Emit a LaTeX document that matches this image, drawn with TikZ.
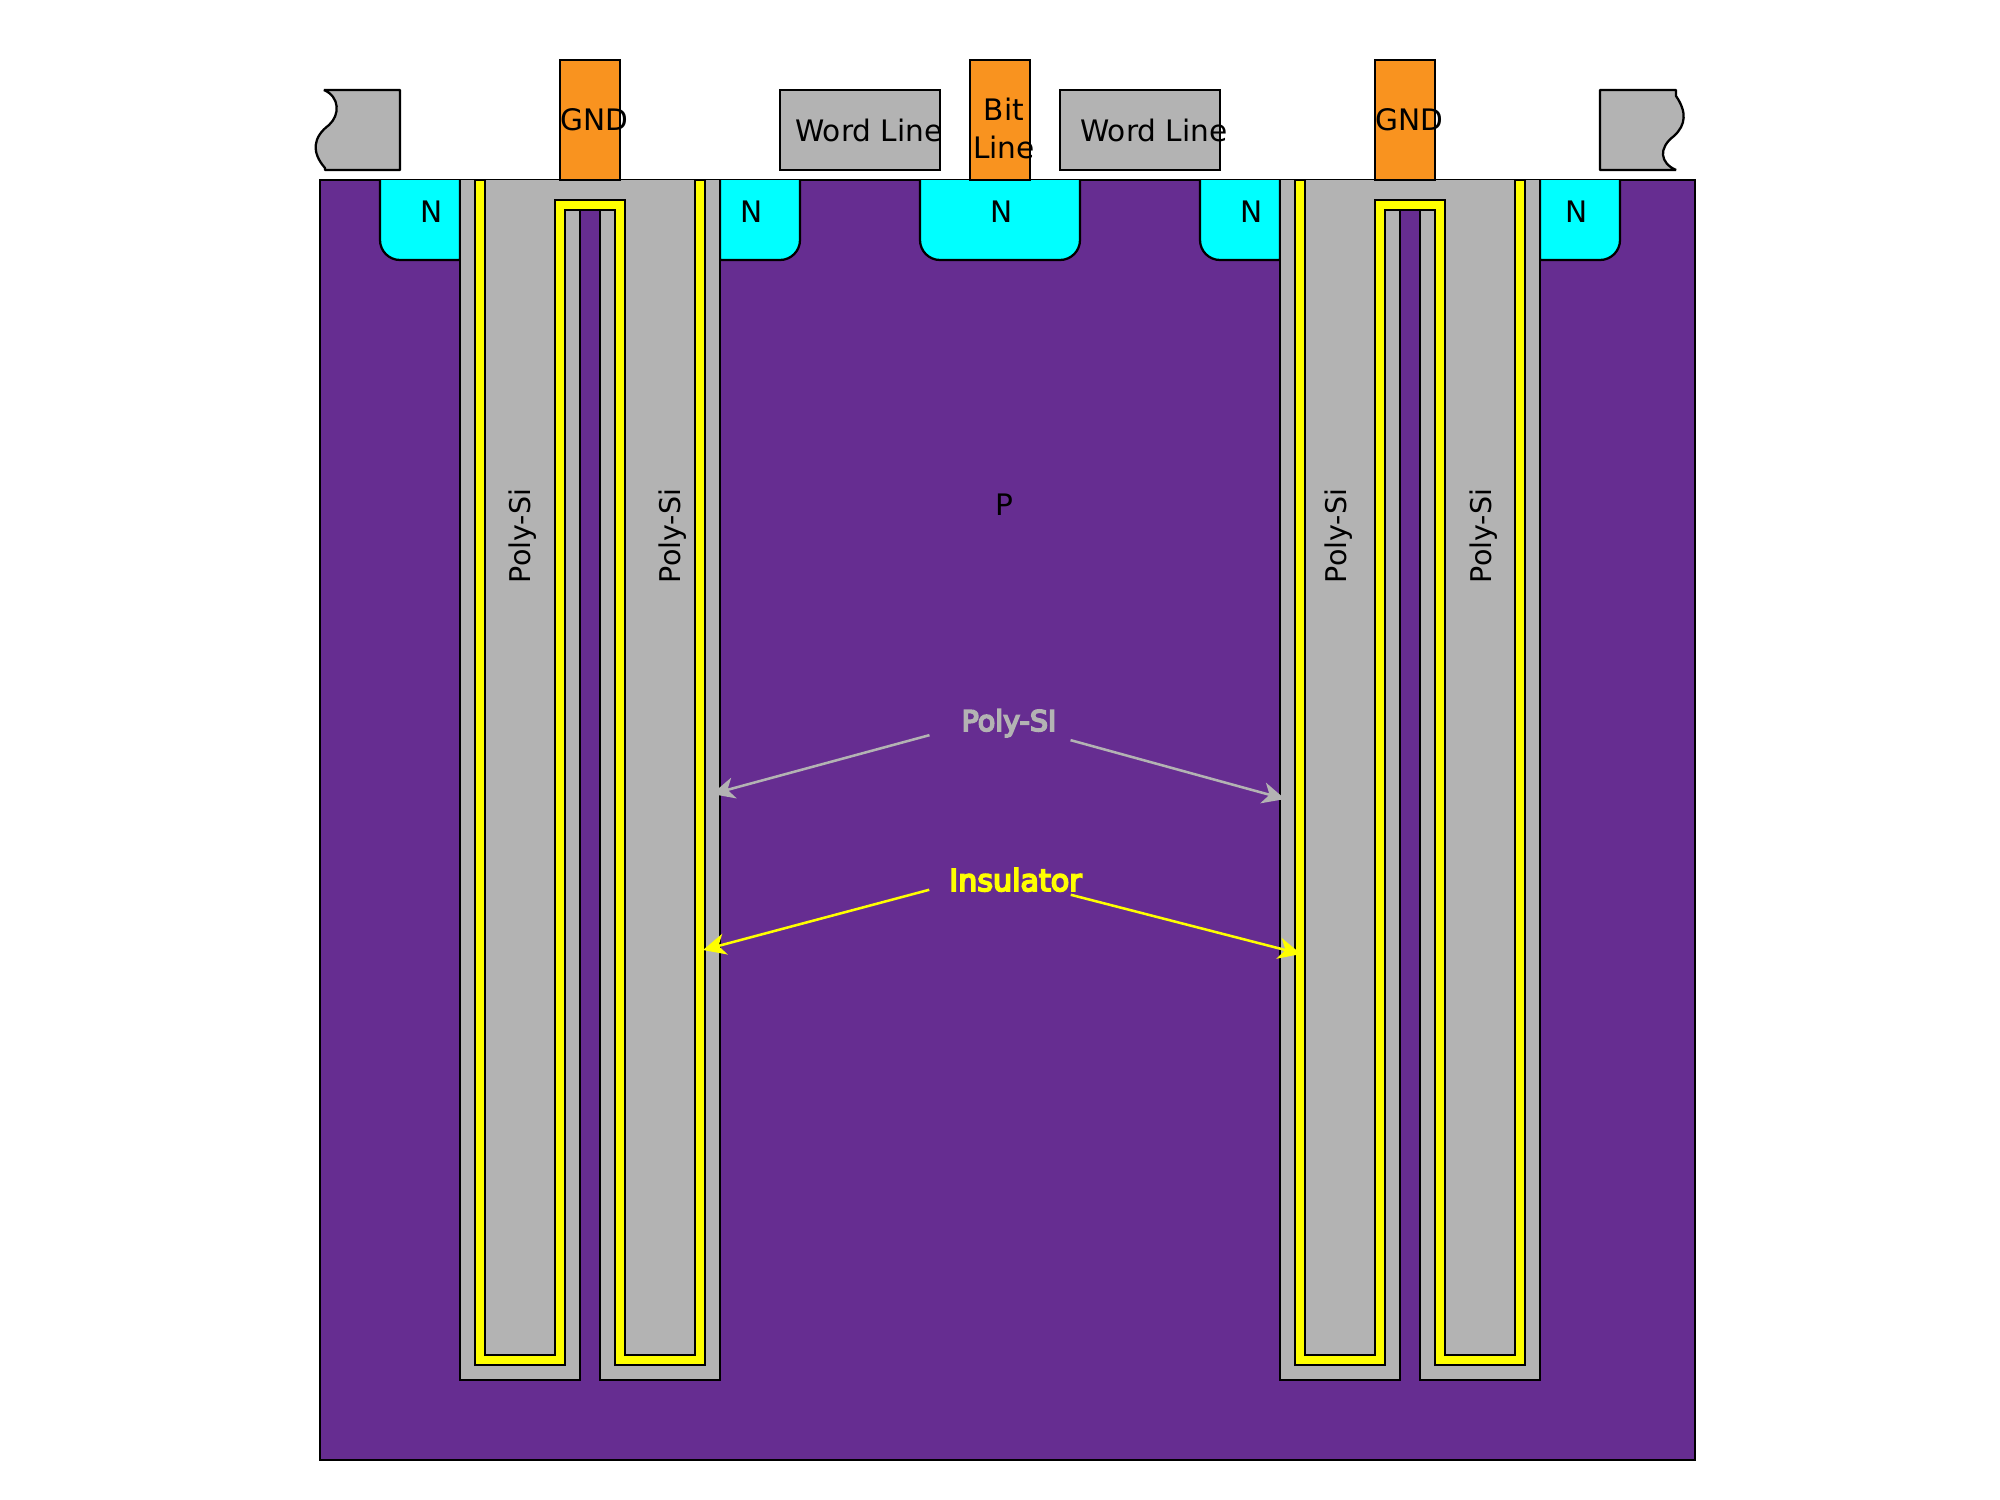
\documentclass[tikz,border=0pt]{standalone}
\usepackage{fontspec}
\setmainfont{DejaVu Sans}
\newfontfamily\calloutfont[FakeBold=6]{DejaVu Sans}
\usetikzlibrary{arrows.meta}

\definecolor{substrate}{HTML}{662D91}
\definecolor{polysi}{HTML}{B3B3B3}
\definecolor{metal}{HTML}{F9931F}
\definecolor{welln}{HTML}{00FFFF}
\definecolor{oxideyellow}{HTML}{FFFF00}

\begin{document}
\begin{tikzpicture}[
x=0.75pt,y=-0.75pt,
line width=1.7pt,
wirebox/.style={draw=black,fill=polysi},
contactbox/.style={draw=black,fill=metal},
wellbox/.style={draw=black,fill=welln},
oxide/.style={draw=black,fill=oxideyellow},
txt/.style={font=\fontsize{22.2pt}{27pt}\selectfont,text=black,inner sep=0pt,anchor=base},
polytxt/.style={font=\fontsize{21.4pt}{27pt}\selectfont,text=black,inner sep=0pt,anchor=base,rotate=90},
greycallout/.style={font=\calloutfont\fontsize{21.4pt}{27pt}\selectfont,text=polysi,inner sep=0pt,anchor=base},
yellowcallout/.style={font=\calloutfont\fontsize{22.6pt}{27pt}\selectfont,text=oxideyellow,inner sep=0pt,anchor=base},
greyarrow/.style={draw=polysi,line width=1.9pt,-{Stealth[length=17pt,width=16pt,inset=5pt]}},
yellowarrow/.style={draw=oxideyellow,line width=1.9pt,-{Stealth[length=17pt,width=16pt,inset=5pt]}}
]
\useasboundingbox (0,0) rectangle (2000,1500);

% substrate
\draw[draw=black,fill=substrate] (320,180) rectangle (1695,1460);

% N wells
\filldraw[wellbox] (380,180) [rounded corners=15pt] -- (380,260) [sharp corners] -- (460,260) -- (460,180);
\filldraw[wellbox] (720,180) -- (720,260) [rounded corners=15pt] -- (800,260) [sharp corners] -- (800,180);
\filldraw[wellbox] (920,180) [rounded corners=15pt] -- (920,260) -- (1080,260) [sharp corners] -- (1080,180);
\filldraw[wellbox] (1200,180) [rounded corners=15pt] -- (1200,260) [sharp corners] -- (1280,260) -- (1280,180);
\filldraw[wellbox] (1540,180) -- (1540,260) [rounded corners=15pt] -- (1620,260) [sharp corners] -- (1620,180);

% left trench pair
\filldraw[wirebox] (460,180) -- (460,1380) -- (580,1380) -- (580,210) -- (600,210) -- (600,1380) -- (720,1380) -- (720,180);
\filldraw[oxide] (475,180) -- (475,1365) -- (565,1365) -- (565,210) -- (615,210) -- (615,1365) -- (705,1365) -- (705,180) -- (695,180) -- (695,1355) -- (625,1355) -- (625,200) -- (555,200) -- (555,1355) -- (485,1355) -- (485,180) -- cycle;

% right trench pair
\filldraw[wirebox] (1280,180) -- (1280,1380) -- (1400,1380) -- (1400,210) -- (1420,210) -- (1420,1380) -- (1540,1380) -- (1540,180);
\filldraw[oxide] (1295,180) -- (1295,1365) -- (1385,1365) -- (1385,210) -- (1435,210) -- (1435,1365) -- (1525,1365) -- (1525,180) -- (1515,180) -- (1515,1355) -- (1445,1355) -- (1445,200) -- (1375,200) -- (1375,1355) -- (1305,1355) -- (1305,180) -- cycle;

% word lines
\filldraw[wirebox,line join=bevel] (325,170) -- (400,170) -- (400,90) -- (324,90) .. controls (340,97) and (340,115) .. (329,125) .. controls (313,137) and (311,152) .. (325,168) -- cycle;
\filldraw[wirebox] (780,90) rectangle (940,170);
\filldraw[wirebox] (1060,90) rectangle (1220,170);
\filldraw[wirebox,line join=bevel] (1600,90) -- (1676,90) -- (1676,96) .. controls (1687,112) and (1686,125) .. (1674,136) .. controls (1658,148) and (1660,163) .. (1676,170) -- (1600,170) -- cycle;

% contacts
\filldraw[contactbox] (560,60) rectangle (620,180);
\filldraw[contactbox] (970,60) rectangle (1030,180);
\filldraw[contactbox] (1375,60) rectangle (1435,180);

\node[txt] (gndleft) at (594,130) {GND};
\node[txt] (gndright) at (1409,130) {GND};
\node[txt] (wordleft) at (869,141) {Word Line};
\node[txt] (wordright) at (1154,141) {Word Line};
\node[txt,anchor=center,align=center] (bitline) at (1004,128) {Bit\\[1.5pt]Line};

\node[txt] (nfirst) at (432,222) {N};
\node[txt] (nsecond) at (752,222) {N};
\node[txt] (ncentre) at (1002,222) {N};
\node[txt] (nfourth) at (1252,222) {N};
\node[txt] (nfifth) at (1577,222) {N};
\node[txt] (pregion) at (1004,515) {P};

\node[polytxt] (polya) at (530,536) {Poly-Si};
\node[polytxt] (polyb) at (680,536) {Poly-Si};
\node[polytxt] (polyc) at (1346,536) {Poly-Si};
\node[polytxt] (polyd) at (1491,536) {Poly-Si};

\node[greycallout] (polylabel) at (1009,731) {Poly-SI};
\node[yellowcallout] (insulatorlabel) at (1015.5,891) {Insulator};

\coordinate (polytargetleft) at (712,794);
\coordinate (polytargetright) at (1285,799);
\coordinate (insulatortargetleft) at (703,950);
\coordinate (insulatortargetright) at (1301,954);

\draw[greyarrow] ([shift={(-31,12)}]polylabel.west) -- (polytargetleft);
\draw[greyarrow] ([shift={(13,17)}]polylabel.east) -- (polytargetright);
\draw[yellowarrow] ([shift={(-19,10)}]insulatorlabel.west) -- (insulatortargetleft);
\draw[yellowarrow] ([shift={(-12,15)}]insulatorlabel.east) -- (insulatortargetright);

\end{tikzpicture}
\end{document}
